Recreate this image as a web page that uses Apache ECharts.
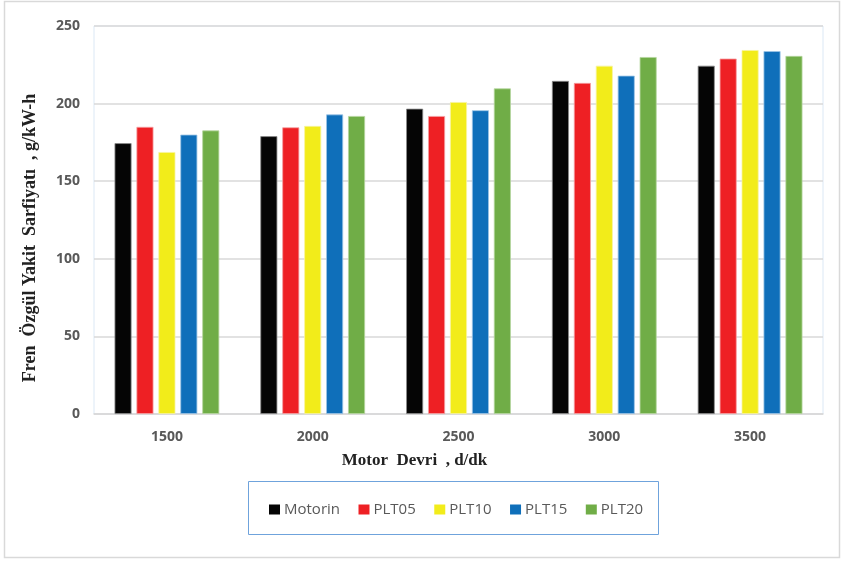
<!DOCTYPE html>
<html>
<head>
<meta charset="utf-8">
<script src="https://cdn.jsdelivr.net/npm/echarts@6/dist/echarts.min.js"></script>
<style>html,body{margin:0;padding:0;background:#fff}#c{width:843px;height:562px}</style>
</head>
<body>
<div id="c"></div>
<script>
const categories = ['1500', '2000', '2500', '3000', '3500'];
const seriesNames = ['Motorin', 'PLT05', 'PLT10', 'PLT15', 'PLT20'];
const motorin = [174.5, 179, 196.7, 214.6, 224.4];
const plt05 = [185, 184.7, 192, 213.3, 229];
const plt10 = [168.8, 185.6, 201, 224.4, 234.5];
const plt15 = [180, 193, 195.7, 218, 233.8];
const plt20 = [182.7, 192, 209.8, 230, 230.7];
const yTicks = [0, 50, 100, 150, 200, 250];
const colors = ['#050505', '#EE2024', '#F2EC1A', '#0F6FBA', '#70AD47'];
const borders = ['#8a8a8a', '#f5a0a2', '#f8f4a0', '#9cc4e6', '#b5d69e'];
const allData = [motorin, plt05, plt10, plt15, plt20];

const chart = echarts.init(document.getElementById('c'), null, {renderer: 'canvas'});
chart.setOption({
  animation: false,
  backgroundColor: '#fff',
  graphic: [
    {type: 'rect', shape: {x: 4.5, y: 1.5, width: 835, height: 556}, style: {fill: 'none', stroke: '#d9d9d9', lineWidth: 1.5}, silent: true},
    {type: 'rect', shape: {x: 248.5, y: 481.5, width: 410, height: 53}, style: {fill: 'none', stroke: '#6fa3dc', lineWidth: 1}, silent: true}
  ],
  grid: {left: 94, right: 20, top: 26, bottom: 148, show: true, borderColor: '#dbe8f5', borderWidth: 1},
  legend: {
    data: seriesNames,
    left: 264,
    top: 497,
    itemWidth: 11,
    itemHeight: 10,
    itemGap: 18.5,
    icon: 'rect',
    itemStyle: {borderWidth: 0},
    textStyle: {fontFamily: 'Open Sans', fontSize: 15, color: '#595959', padding: [0, 0, 0, -1]}
  },
  xAxis: {
    type: 'category',
    data: categories,
    name: 'Motor  Devri  , d/dk',
    nameLocation: 'middle',
    nameGap: 38,
    nameTextStyle: {fontFamily: 'Liberation Serif', fontWeight: 'bold', fontSize: 17, color: '#222', padding: [0, 88, 0, 0]},
    axisLine: {lineStyle: {color: '#d9d9d9', width: 1.5}},
    axisTick: {show: false},
    axisLabel: {fontFamily: 'Open Sans', fontWeight: 'bold', fontSize: 14, color: '#595959', margin: 16}
  },
  yAxis: {
    type: 'value',
    min: 0, max: 250, interval: 50,
    name: 'Fren  Özgül Yakit  Sarfiyatı  , g/kW-h',
    nameLocation: 'middle',
    nameGap: 55,
    nameTextStyle: {fontFamily: 'Liberation Serif', fontWeight: 'bold', fontSize: 18, color: '#222', padding: [0, 36, 0, 0]},
    axisLine: {show: false},
    axisTick: {show: false},
    axisLabel: {fontFamily: 'Open Sans', fontWeight: 'bold', fontSize: 14, color: '#595959', margin: 14,
      formatter: v => yTicks.includes(v) ? String(v) : ''},
    splitLine: {lineStyle: {color: '#d9d9d9', width: 1.5}}
  },
  series: seriesNames.map((n, i) => ({
    name: n,
    type: 'bar',
    data: allData[i],
    barWidth: 17,
    barGap: '29%',
    itemStyle: {color: colors[i], borderColor: borders[i], borderWidth: 0.8}
  }))
});
</script>
</body>
</html>
